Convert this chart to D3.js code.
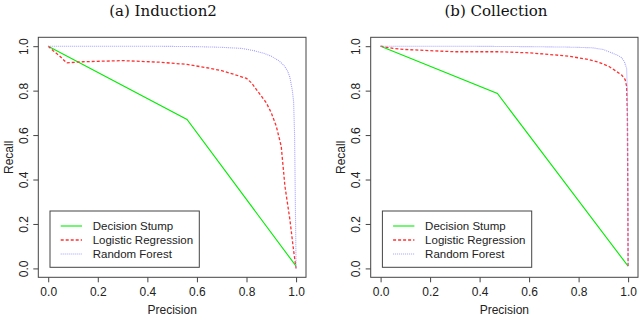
<!DOCTYPE html>
<html lang="en">
<head>
<meta charset="UTF-8">
<title>Precision / Recall</title>
<script src="https://d3js.org/d3.v7.min.js"></script>
<style>
  html, body { margin: 0; padding: 0; background: #fff; }
  svg { display: block; }
  .tick text { font-family: "Liberation Sans", Arial, sans-serif; font-size: 12px; fill: #222; }
  .tick line { stroke: #444; }
</style>
</head>
<body>
<svg id="chart" width="640" height="315"></svg>
<script>
// ---- data ----
const ticks = [0, 0.2, 0.4, 0.6, 0.8, 1.0];
const seriesNames = ["Decision Stump", "Logistic Regression", "Random Forest"];

// (a) Induction2
const stumpIndP = [0, 0.56, 1.0];
const stumpIndR = [1.0, 0.67, 0.01];
const logitIndP = [0, 0.02, 0.047, 0.074, 0.14, 0.3, 0.45, 0.56, 0.64, 0.7, 0.75, 0.8, 0.82, 0.84, 0.86, 0.88, 0.9, 0.92, 0.94, 0.955, 0.975, 0.99, 1.0];
const logitIndR = [1.0, 0.98, 0.955, 0.925, 0.93, 0.935, 0.928, 0.918, 0.903, 0.89, 0.873, 0.855, 0.835, 0.805, 0.775, 0.745, 0.7, 0.64, 0.55, 0.37, 0.22, 0.08, 0.0];
const forestIndP = [0, 0.2, 0.4, 0.6, 0.7, 0.78, 0.83, 0.87, 0.9, 0.93, 0.95, 0.965, 0.975, 0.985, 0.99, 0.994, 0.996, 0.998, 1.0];
const forestIndR = [1.0, 1.0, 1.0, 0.998, 0.995, 0.99, 0.98, 0.968, 0.955, 0.935, 0.915, 0.89, 0.86, 0.8, 0.75, 0.6, 0.4, 0.2, 0.0];

// (b) Collection
const stumpColP = [0, 0.472, 1.0];
const stumpColR = [1.0, 0.787, 0.01];
const logitColP = [0, 0.05, 0.1, 0.2, 0.3, 0.48, 0.6, 0.68, 0.76, 0.84, 0.88, 0.921, 0.948, 0.974, 0.988, 0.994, 0.997, 0.999, 1.0];
const logitColR = [1.0, 0.99, 0.985, 0.98, 0.975, 0.975, 0.97, 0.963, 0.955, 0.94, 0.928, 0.91, 0.89, 0.87, 0.85, 0.82, 0.7, 0.3, 0.01];
const forestColP = [0, 0.3, 0.6, 0.75, 0.854, 0.9, 0.934, 0.96, 0.974, 0.985, 0.994, 0.997, 0.999, 1.0];
const forestColR = [1.0, 1.0, 0.998, 0.996, 0.993, 0.985, 0.97, 0.958, 0.948, 0.93, 0.9, 0.8, 0.4, 0.01];

// ---- styling ----
const styles = [
  { color: "#00ee00", dash: null, width: 1.1 },
  { color: "#ff3030", dash: "3,2", width: 1.3 },
  { color: "#9f9fff", dash: "1,1", width: 1.1 }
];
const zip = (p, r) => p.map((d, i) => ({ p: d, r: r[i] }));

const panels = [
  { title: "(a) Induction2", titleX: 163, left: 38.3, right: 306,
    series: [zip(stumpIndP, stumpIndR), zip(logitIndP, logitIndR), zip(forestIndP, forestIndR)] },
  { title: "(b) Collection", titleX: 496, left: 370.7, right: 638,
    series: [zip(stumpColP, stumpColR), zip(logitColP, logitColR), zip(forestColP, forestColR)] }
];

const plotTop = 37.3, plotBottom = 277.3;
const svg = d3.select("#chart");
const fmt = d3.format(".1f");

panels.forEach(pan => {
  const x = d3.scaleLinear().domain([-0.04, 1.04]).range([pan.left, pan.right]);
  const y = d3.scaleLinear().domain([-0.04, 1.04]).range([plotBottom, plotTop]);
  const g = svg.append("g");

  // title
  g.append("text")
    .attr("x", pan.titleX).attr("y", 15.5)
    .attr("text-anchor", "middle")
    .style("font-family", "'DejaVu Serif', serif")
    .style("font-size", "15px")
    .attr("fill", "#111")
    .text(pan.title);

  // x axis
  const xa = g.append("g")
    .attr("transform", `translate(0,${plotBottom})`)
    .call(d3.axisBottom(x).tickValues(ticks).tickFormat(fmt).tickSize(5));
  xa.select(".domain").remove();
  xa.selectAll(".tick text").attr("y", 18.7).attr("dy", 0);

  // y axis, labels rotated like R
  const ya = g.append("g")
    .attr("transform", `translate(${pan.left},0)`)
    .call(d3.axisLeft(y).tickValues(ticks).tickFormat(fmt).tickSize(5));
  ya.select(".domain").remove();
  ya.selectAll(".tick text")
    .attr("x", 0).attr("y", -10.4).attr("dy", 0)
    .attr("text-anchor", "middle")
    .attr("transform", "rotate(-90)");

  // axis labels
  g.append("text")
    .attr("x", (pan.left + pan.right) / 2).attr("y", 313.5)
    .attr("text-anchor", "middle")
    .style("font-family", "'Liberation Sans', Arial, sans-serif")
    .style("font-size", "12px").attr("fill", "#222")
    .text("Precision");
  g.append("text")
    .attr("transform", `translate(${pan.left - 25.5},${(plotTop + plotBottom) / 2}) rotate(-90)`)
    .attr("text-anchor", "middle")
    .style("font-family", "'Liberation Sans', Arial, sans-serif")
    .style("font-size", "12px").attr("fill", "#222")
    .text("Recall");

  // curves
  const line = d3.line().x(d => x(d.p)).y(d => y(d.r));
  pan.series.forEach((s, i) => {
    g.append("path")
      .datum(s)
      .attr("d", line)
      .attr("fill", "none")
      .attr("stroke", styles[i].color)
      .attr("stroke-width", styles[i].width)
      .attr("stroke-dasharray", styles[i].dash);
  });

  // plot box
  g.append("rect")
    .attr("x", pan.left).attr("y", plotTop)
    .attr("width", pan.right - pan.left).attr("height", plotBottom - plotTop)
    .attr("fill", "none").attr("stroke", "#444").attr("stroke-width", 1);

  // legend
  const lx = pan.left + 11.7, ly = 211;
  const leg = g.append("g").attr("transform", `translate(${lx},${ly})`);
  leg.append("rect")
    .attr("width", 149.3).attr("height", 56.3)
    .attr("fill", "#fff").attr("stroke", "#444").attr("stroke-width", 1);
  seriesNames.forEach((name, i) => {
    const cy = 15 + i * 14;
    leg.append("line")
      .attr("x1", 10.7).attr("x2", 32).attr("y1", cy).attr("y2", cy)
      .attr("stroke", styles[i].color)
      .attr("stroke-width", styles[i].width)
      .attr("stroke-dasharray", styles[i].dash);
    leg.append("text")
      .attr("x", 42.7).attr("y", cy + 4.2)
      .style("font-family", "'Liberation Sans', Arial, sans-serif")
      .style("font-size", "11.5px").attr("fill", "#222")
      .text(name);
  });
});
</script>
</body>
</html>
